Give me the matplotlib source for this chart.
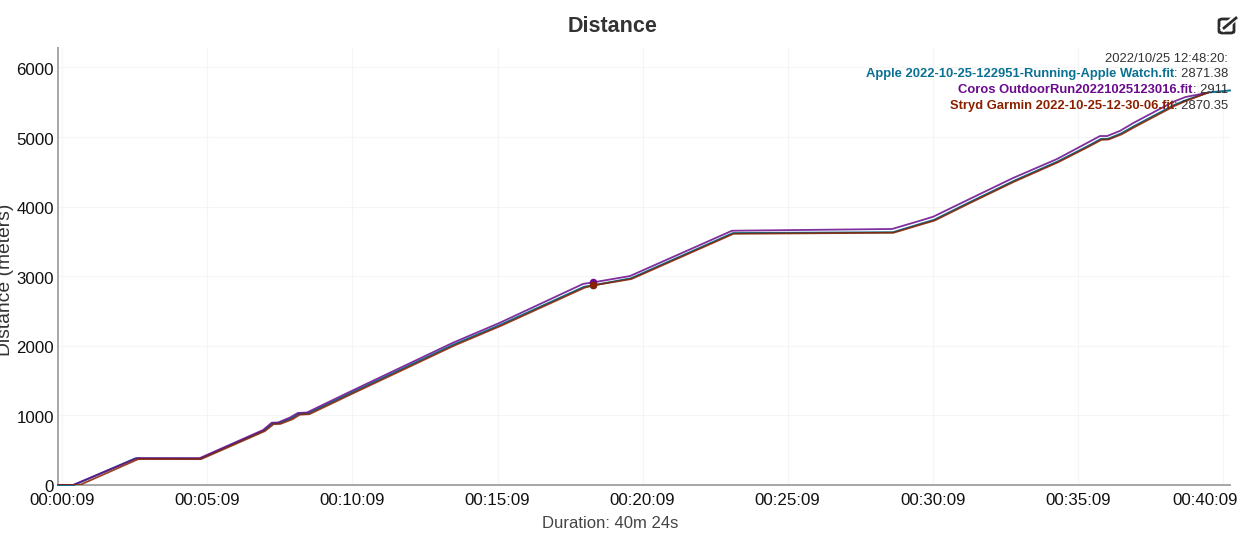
import matplotlib
matplotlib.use("Agg")
import matplotlib.pyplot as plt
from matplotlib.patches import FancyBboxPatch
from matplotlib.lines import Line2D
from matplotlib.transforms import ScaledTranslation

W, H = 1241, 549
X_MAX = 2424
Y_MAX = 6280

apple_t = [0, 33, 160, 294, 426, 444, 458, 483, 498, 518, 606, 819, 916, 1088, 1108, 1185, 1396, 1727, 1785, 1812, 1883, 1977, 2068, 2130, 2157, 2172, 2199, 2226, 2309, 2334, 2378, 2424]
apple_d = [0, 0, 382, 378, 782, 885, 888, 958, 1022, 1030, 1322, 2020, 2305, 2848, 2871, 2970, 3620, 3632, 3755, 3810, 4055, 4370, 4650, 4870, 4972, 4975, 5052, 5158, 5462, 5532, 5640, 5670]

coros_t = [0, 31, 163, 293, 424, 442, 455, 480, 496, 515, 604, 817, 914, 1086, 1106, 1183, 1394, 1725, 1783, 1810, 1881, 1975, 2066, 2128, 2155, 2170, 2197, 2224, 2307, 2332, 2378]
coros_d = [0, 0, 386, 386, 790, 895, 898, 970, 1035, 1042, 1341, 2045, 2332, 2890, 2911, 3003, 3654, 3679, 3798, 3855, 4095, 4411, 4684, 4914, 5015, 5015, 5091, 5202, 5508, 5576, 5637]

stryd_t = [0, 45, 166, 296, 428, 446, 460, 485, 500, 520, 608, 820, 917, 1089, 1108, 1186, 1397, 1728, 1786, 1813, 1884, 1978, 2069, 2131, 2158, 2173, 2200, 2227, 2310, 2335, 2378]
stryd_d = [0, 0, 372, 372, 775, 875, 878, 945, 1010, 1018, 1310, 2005, 2290, 2835, 2870, 2960, 3610, 3625, 3745, 3800, 4045, 4360, 4640, 4860, 4960, 4965, 5040, 5145, 5450, 5525, 5637]

hover_t = 1106
hover_label = "2022/10/25 12:48:20:"
series_names = ["Apple 2022-10-25-122951-Running-Apple Watch.fit",
                "Coros OutdoorRun20221025123016.fit",
                "Stryd Garmin 2022-10-25-12-30-06.fit"]
series_values = ["2871.38", "2911", "2870.35"]
hover_values = [2871.38, 2911, 2870.35]
series_colors = ["#0b7193", "#6a0a8c", "#8a2200"]

x_ticks = [9 + 300 * k for k in range(9)]
x_labels = ["00:%02d:09" % (5 * k) for k in range(9)]
y_ticks = [0, 1000, 2000, 3000, 4000, 5000, 6000]

plt.rcParams["font.family"] = ["Liberation Sans", "DejaVu Sans"]
fig = plt.figure(figsize=(W / 100, H / 100), dpi=100, facecolor="white")
L, R, T, B = 58, 1230, 48, 485
ax = fig.add_axes([L / W, 1 - B / H, (R - L) / W, (B - T) / H])
ax.set_xlim(0, X_MAX)
ax.set_ylim(0, Y_MAX)

ax.plot(apple_t, apple_d, color=series_colors[0], lw=1.4, zorder=3, clip_on=False, solid_joinstyle="round")
ax.plot(coros_t, coros_d, color=series_colors[1], lw=1.3, alpha=0.85, zorder=4, solid_joinstyle="round")
ax.plot(stryd_t, stryd_d, color=series_colors[2], lw=1.3, alpha=0.85, zorder=5, solid_joinstyle="round")
for v, c, z in zip(hover_values, series_colors, (6, 7, 8)):
    ax.plot([hover_t], [v], "o", ms=5.4, color=c, mec="none", zorder=z)

ax.set_xticks(x_ticks, x_labels)
ax.set_yticks(y_ticks)
ax.grid(True, color="#f5f5f5", lw=0.8)
ax.set_axisbelow(True)
ax.tick_params(length=0, labelsize=12.2, labelcolor="#111111", pad=3)
ax.tick_params(axis="x", pad=5.5)
for s in ("top", "right"):
    ax.spines[s].set_visible(False)
for s in ("left", "bottom"):
    ax.spines[s].set_color("#a6a6a6")
    ax.spines[s].set_linewidth(1.4)

xl = ax.get_xticklabels()
xl[-1].set_transform(xl[-1].get_transform() + ScaledTranslation(-18 / 100, 0, fig.dpi_scale_trans))
for lb in ax.get_yticklabels():
    lb.set_transform(lb.get_transform() + ScaledTranslation(0, -1.5 / 100, fig.dpi_scale_trans))


def px(x, y):
    return x / W, 1 - y / H


fig.text(*px(612.5, 26.5), "Distance", ha="center", va="center", fontsize=15.5, fontweight="bold", color="#333333")
fig.text(*px(610, 523), "Duration: 40m 24s", ha="center", va="center", fontsize=12, color="#444444")
fig.text(*px(6, 280), "Distance (meters)", ha="center", va="center", rotation=90, fontsize=13.9, color="#333333")

fig.text(*px(1228, 59), hover_label, ha="right", va="center", fontsize=9.35, color="#333333", zorder=10)
rend = fig.canvas.get_renderer()
for y, name, val, col in zip((74, 90, 106), series_names, series_values, series_colors):
    t = fig.text(*px(1228, y), ": " + val, ha="right", va="center", fontsize=9.35, color="#333333", zorder=10)
    ext = t.get_window_extent(rend)
    fig.text(ext.x0 / W, 1 - y / H, name, ha="right", va="center", fontsize=9.4,
             fontweight="bold", color=col, zorder=10)

# edit icon
fig.add_artist(FancyBboxPatch(px(1219, 33), 15 / W, 14 / H, transform=fig.transFigure,
                              boxstyle="round,pad=0,rounding_size=0.003", fc="none", ec="#2b2b2b", lw=2.0))
fig.add_artist(Line2D([1224 / W, 1236 / W], [1 - 28 / H, 1 - 17 / H], color="white", lw=4.5, transform=fig.transFigure))
fig.add_artist(Line2D([1224 / W, 1236 / W], [1 - 28 / H, 1 - 18 / H], color="#2b2b2b", lw=2.0, transform=fig.transFigure))

fig.savefig("out.png", dpi=100, facecolor="white")
